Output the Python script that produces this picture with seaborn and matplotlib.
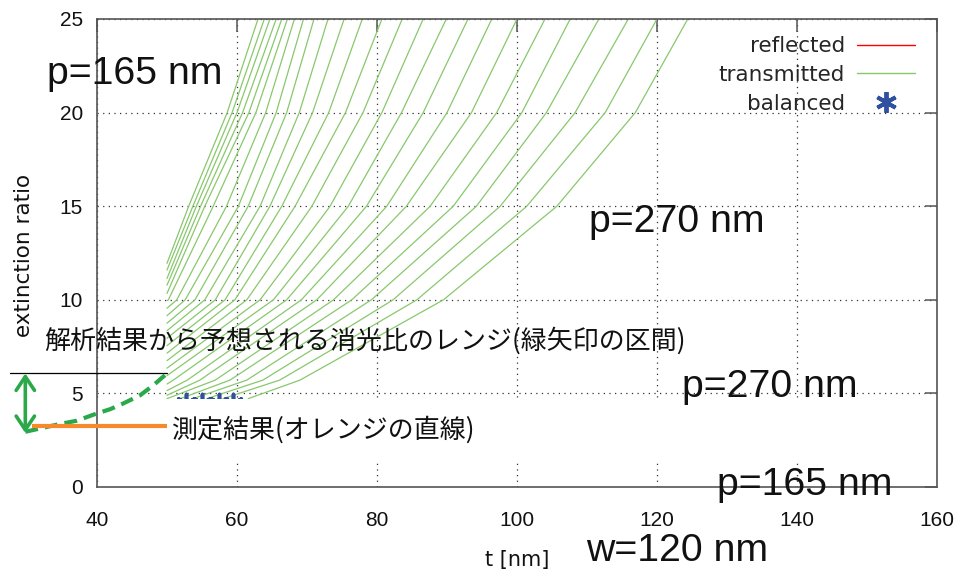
import numpy as np
import pandas as pd
import matplotlib
matplotlib.use("Agg")
import matplotlib.pyplot as plt
import seaborn as sns
from matplotlib.lines import Line2D

# ---------------- data ----------------
# 25 "transmitted" curves (left to right); each is described by its start point
# and the thickness t [nm] where it crosses given extinction-ratio levels.
curve_start_t = [50.0] * 20 + [51.9, 53.7, 55.7, 58.0, 61.6]
curve_start_y = [11.95, 11.59, 11.14, 10.78, 10.34, 9.95, 9.55, 9.15, 8.75, 8.35,
                 7.95, 7.55, 7.15, 6.75, 6.35, 5.95, 5.50, 5.15, 4.90, 4.72,
                 4.72, 4.72, 4.72, 4.72, 4.72]
nan = np.nan
t_at_5p7 = [nan] * 16 + [50.9, 52.9, 54.7, 56.9, 59.0, 61.4, 63.7, 66.1, 69.0]
t_at_10 = [nan] * 5 + [50.2, 51.4, 52.6, 54.0, 55.4, 56.9, 58.3, 59.7, 61.4, 63.3,
                       65.2, 67.1, 69.2, 71.4, 73.8, 76.4, 79.2, 82.3, 85.7, 89.5]
t_at_15 = [53.1, 53.7, 54.2, 54.8, 55.4, 56.6, 58.5, 60.2, 61.6, 63.3, 64.7, 66.4,
           68.3, 70.7, 73.3, 75.9, 78.5, 81.4, 84.2, 87.6, 90.9, 94.2, 97.6, 101.4, 105.7]
t_at_20 = [58.6, 59.3, 60.0, 60.8, 61.7, 62.7, 64.1, 65.6, 67.1, 68.9, 70.8, 73.1,
           75.5, 78.0, 80.7, 83.5, 86.6, 90.0, 93.5, 97.1, 100.7, 104.2, 108.3, 112.6, 116.9]
t_at_25 = [63.0, 63.9, 64.7, 65.6, 66.4, 67.2, 68.2, 69.5, 71.0, 73.0, 75.3, 77.9,
           80.7, 83.6, 86.6, 89.9, 93.0, 96.4, 100.0, 104.0, 107.6, 111.7, 115.9, 120.0, 124.4]
levels = [5.71, 10.0, 15.0, 20.0, 25.0]

# "balanced" points (mostly hidden by the pasted white box)
balanced_t = [52.7, 55.0, 57.4, 59.4]
balanced_y = [4.5, 4.5, 4.5, 4.5]

# hand-drawn annotations
range_line_t = [27.6, 50.0]
range_line_y = [6.07, 6.07]
arrow_t = 29.76
arrow_y = [6.07, 2.88]
measured_t = [30.7, 50.0]
measured_y = [3.26, 3.26]
dash_t = [29.76, 31.9, 34.5, 37.1, 40.0, 41.9, 43.8, 46.2, 48.1, 50.0]
dash_y = [2.95, 3.13, 3.35, 3.54, 3.93, 4.16, 4.47, 4.91, 5.45, 6.07]

x_ticks = [40, 60, 80, 100, 120, 140, 160]
y_ticks = [0, 5, 10, 15, 20, 25]

# ---------------- build long table ----------------
rows = []
for i in range(25):
    pts = [(curve_start_t[i], curve_start_y[i])]
    for lvl, arr in zip(levels, [t_at_5p7, t_at_10, t_at_15, t_at_20, t_at_25]):
        v = arr[i]
        if not np.isnan(v) and lvl > curve_start_y[i]:
            pts.append((v, lvl))
    for k, (t, y) in enumerate(pts):
        rows.append({"curve": i, "order": k, "t": t, "ratio": y})
df = pd.DataFrame(rows)

# ---------------- figure ----------------
W, H = 964, 571
sns.set_theme(style="white")
plt.rcParams["font.family"] = ["DejaVu Sans", "Noto Sans CJK JP"]

fig = plt.figure(figsize=(W / 100, H / 100), dpi=100)
ax = fig.add_axes([97 / W, 1 - 487 / H, 840 / W, 468 / H])

green = "#88c86c"
sns.lineplot(data=df, x="t", y="ratio", units="curve", estimator=None, sort=False,
             color=green, linewidth=0.9, ax=ax, legend=False, zorder=2)
ax.scatter(balanced_t, balanced_y, marker=(6, 2, 0), s=170, color="#3050a0",
           linewidths=2.6, zorder=2.1)

ax.set_xlim(40, 160)
ax.set_ylim(0, 25)
ax.set_xticks(x_ticks)
ax.set_yticks(y_ticks)
ax.grid(True, color="#333333", linestyle=(0, (1, 3.5)), linewidth=0.9)

for s in ax.spines.values():
    s.set_color("#555555")
    s.set_linewidth(1.2)
ax.tick_params(axis="both", direction="in", length=9, width=1.1, color="#555555",
               top=True, right=True, labelsize=15, labelcolor="#111111")
ax.tick_params(axis="x", pad=17)
ax.tick_params(axis="y", pad=10)
for lbl in ax.get_xticklabels() + ax.get_yticklabels():
    lbl.set_fontfamily("Liberation Sans")

ax.set_xlabel("t [nm]", fontsize=15, color="#111111")
ax.xaxis.set_label_coords(0.5, -0.135)
ax.set_ylabel("extinction ratio", fontsize=15.5, color="#111111")
ax.yaxis.set_label_coords(-0.075, 0.495)

# white pasted box covering lower part of the plot
ax.axhspan(1.45, 4.72, xmin=0, xmax=1, color="white", lw=0, zorder=2.3)

# legend
handles = [Line2D([], [], color="red", lw=1.0),
           Line2D([], [], color=green, lw=1.0),
           Line2D([], [], color="#3050a0", lw=0, marker=(6, 2, 0), markersize=15,
                  markeredgewidth=2.8)]
leg = ax.legend(handles, ["reflected", "transmitted", "balanced"], loc="upper right",
                bbox_to_anchor=(0.974, 0.963), frameon=False, markerfirst=False,
                fontsize=15.5, handlelength=2.7, handletextpad=0.55,
                labelspacing=0.4, borderpad=0, borderaxespad=0)
leg.set_zorder(6)

# hand-drawn annotations (outside the axes on the left)
ax.plot(range_line_t, range_line_y, color="black", lw=0.9, clip_on=False, zorder=5)
ax.plot(dash_t, dash_y, color="#2aa84a", lw=3.0, dashes=(3.1, 1.7), clip_on=False,
        zorder=5, solid_capstyle="butt")
ax.plot(measured_t, measured_y, color="#f5892c", lw=3.0, clip_on=False, zorder=5,
        solid_capstyle="butt")
ax.annotate("", xy=(arrow_t, arrow_y[1]), xytext=(arrow_t, arrow_y[0]),
            arrowprops=dict(arrowstyle="<->,head_length=0.45,head_width=0.3",
                            color="#2aa84a", lw=2.6, mutation_scale=22,
                            shrinkA=0, shrinkB=0),
            annotation_clip=False, zorder=5)


def fx(px):
    return px / W


def fy(py):
    return 1 - py / H


big = dict(fontsize=28.3, family="Liberation Sans", color="#111111", va="baseline",
           ha="left", zorder=7)
fig.text(fx(47), fy(84), "p=165 nm", **big)
fig.text(fx(589), fy(232), "p=270 nm", **big)
fig.text(fx(682), fy(397), "p=270 nm", **big)
fig.text(fx(717), fy(495), "p=165 nm", **big)
fig.text(fx(586), fy(561), "w=120 nm", **big)

jp = dict(fontsize=18.7, family=["Noto Sans CJK JP", "DejaVu Sans"], color="#111111",
          va="center", ha="left", zorder=7)
fig.text(fx(44), fy(341), "解析結果から予想される消光比のレンジ(緑矢印の区間)", **jp)
fig.text(fx(171), fy(430), "測定結果(オレンジの直線)", **jp)

fig.savefig("out.png", dpi=100)
